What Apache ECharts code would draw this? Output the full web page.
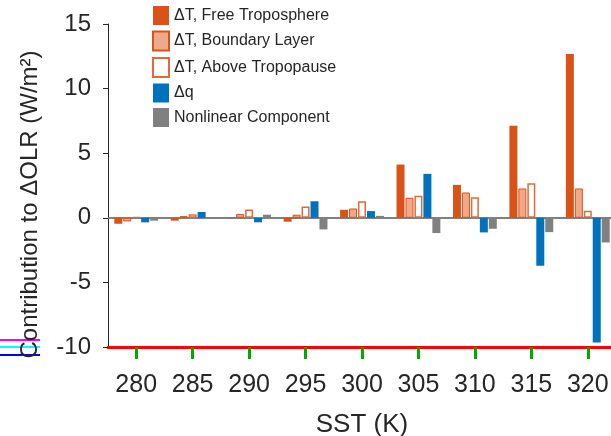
<!DOCTYPE html>
<html><head><meta charset="utf-8">
<script src="https://cdn.jsdelivr.net/npm/echarts@6/dist/echarts.min.js"></script>
<style>html,body{margin:0;padding:0;background:#fff}#c{width:611px;height:436px}</style>
</head><body><div id="c"></div>
<script>
var categories = ['280','285','290','295','300','305','310','315','320'];
var freeTrop   = [-0.46,-0.22, 0.05,-0.30, 0.62, 4.12, 2.55, 7.12,12.67];
var boundary   = [-0.28, 0.13, 0.30, 0.24, 0.72, 1.55, 1.96, 2.27, 2.27];
var aboveTrop  = [ 0.05, 0.27, 0.65, 0.88, 1.28, 1.70, 1.60, 2.67, 0.54];
var deltaQ     = [-0.35, 0.45,-0.35, 1.28, 0.52, 3.40,-1.13,-3.71,-9.65];
var nonlinear  = [-0.22,-0.03, 0.24,-0.90, 0.15,-1.18,-0.85,-1.11,-1.91];
var yTicks = [-10,-5,0,5,10,15];

var font = 'Liberation Sans, Arial, sans-serif';
var txt = '#262626';
var chart = echarts.init(document.getElementById('c'), null, {renderer:'canvas'});
function bar(name, data, style){
  return {name:name, type:'bar', data:data, barWidth:8, barGap:'12%', itemStyle:style, animation:false};
}
var series = [
  bar('ΔT, Free Troposphere', freeTrop, {color:'#D95319'}),
  bar('ΔT, Boundary Layer', boundary, {color:'#EFA88A', borderColor:'#D95319', borderWidth:1}),
  bar('ΔT, Above Tropopause', aboveTrop, {color:'#FFFFFF', borderColor:'#E06A3A', borderWidth:1.5}),
  bar('Δq', deltaQ, {color:'#0072BD'}),
  bar('Nonlinear Component', nonlinear, {color:'#808080'})
];
series[0].markLine = {silent:true, symbol:'none', label:{show:false}, z:1,
  lineStyle:{color:'#808080', width:2, type:'solid'}, data:[{yAxis:0}]};
chart.setOption({
  animation:false,
  grid:{left:108, top:24, width:508, height:323, containLabel:false, outerBoundsMode:'none'},
  legend:{orient:'vertical', left:152, top:6, padding:0, icon:'rect', itemWidth:16, itemHeight:19, itemGap:5.5,
    textStyle:{fontFamily:font, fontSize:16, color:txt},
    data:series.map(function(s){return s.name;})},
  xAxis:{type:'category', data:categories, boundaryGap:true, position:'bottom',
    name:'SST (K)', nameLocation:'middle', nameGap:65,
    nameTextStyle:{fontFamily:font, fontSize:26, color:txt},
    axisLine:{show:true, onZero:false, lineStyle:{color:'#ff0000', width:3}},
    axisTick:{show:true, alignWithLabel:true, length:12, lineStyle:{color:'#00aa00', width:3}},
    axisLabel:{fontFamily:font, fontSize:25, color:txt, margin:26, interval:0, hideOverlap:false}},
  yAxis:{type:'value', min:-10, max:15, interval:5,
    name:'Contribution to ΔOLR (W/m²)', nameLocation:'middle', nameGap:66,
    nameTextStyle:{fontFamily:font, fontSize:24, color:txt, padding:[0,38,0,0]},
    axisLine:{show:true, lineStyle:{color:txt, width:1}},
    axisTick:{show:true, length:5, lineStyle:{color:txt}},
    splitLine:{show:false},
    axisLabel:{fontFamily:font, fontSize:24, color:txt, margin:17,
      formatter:function(v){return yTicks.indexOf(v)>=0 ? String(v) : '';}}},
  series:series,
  graphic:[
    {type:'line', shape:{x1:0,y1:340,x2:40,y2:340}, style:{stroke:'#ff00ff', lineWidth:2}},
    {type:'line', shape:{x1:0,y1:347,x2:40,y2:347}, style:{stroke:'#00ffff', lineWidth:2}},
    {type:'line', shape:{x1:0,y1:355,x2:40,y2:355}, style:{stroke:'#0000ff', lineWidth:2}}
  ]
});
</script></body></html>
